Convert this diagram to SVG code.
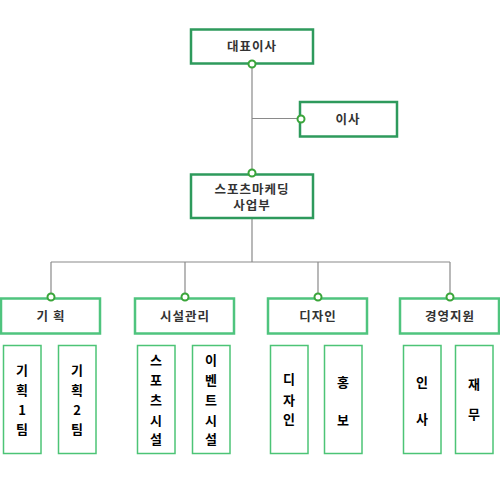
<svg xmlns="http://www.w3.org/2000/svg" width="500" height="484" viewBox="0 0 500 484">
<style>
.b1{fill:#fff;stroke:#2e9a5c;stroke-width:2.5}
.b2{fill:#fff;stroke:#4fc47e;stroke-width:2.5}
.b3{fill:#fff;stroke:#4cc476;stroke-width:1.5}
.dot{fill:#fff;stroke:#3aa53a;stroke-width:2}
.ln{stroke:#8a8a8a;stroke-width:1.2;fill:none}
text{font-family:"Noto Sans CJK KR","Noto Sans",sans-serif;font-weight:bold;text-anchor:middle}
.t1{font-size:12.5px;fill:#333;letter-spacing:1px}
.t3{font-size:13px;fill:#000}
</style>
<rect width="500" height="484" fill="#fff"/>
<g id="connectors">
<path class="ln" d="M252 63V262M252 118.5H301M51 262H450M51 262V297M185 262V297M318 262V297M450 262V297"/>
</g>
<g id="ceo"><rect class="b1" x="191" y="29.5" width="122" height="34"/><text class="t1" x="252" y="51">대표이사</text><circle class="dot" cx="252" cy="64" r="3.5"/></g>
<g id="director"><rect class="b1" x="300" y="102" width="97" height="34.5"/><text class="t1" x="348" y="124">이사</text><circle class="dot" cx="301" cy="119" r="3.5"/></g>
<g id="sports"><rect class="b1" x="191" y="174.5" width="122" height="43.5"/><text class="t1" x="252" y="194"><tspan x="252" y="194">스포츠마케딩</tspan><tspan x="252" y="210">사업부</tspan></text><circle class="dot" cx="252" cy="173" r="3.5"/></g>
<g id="plan"><rect class="b2" x="1" y="298.5" width="99" height="35"/><text class="t1" x="51" y="321">기 획</text><circle class="dot" cx="51" cy="297" r="3.5"/></g>
<g id="facility"><rect class="b2" x="135" y="298.5" width="99" height="35"/><text class="t1" x="185" y="321">시설관리</text><circle class="dot" cx="185" cy="297" r="3.5"/></g>
<g id="design"><rect class="b2" x="268" y="298.5" width="99" height="35"/><text class="t1" x="318" y="321">디자인</text><circle class="dot" cx="318" cy="297" r="3.5"/></g>
<g id="mgmt"><rect class="b2" x="400" y="298.5" width="99" height="35"/><text class="t1" x="450" y="321">경영지원</text><circle class="dot" cx="450" cy="297" r="3.5"/></g>
<g id="plan1"><rect class="b3" x="3.5" y="345.5" width="37.5" height="108"/><text class="t3" x="22" y="375">기</text><text class="t3" x="22" y="395">획</text><text class="t3" x="22" y="415">1</text><text class="t3" x="22" y="434">팀</text></g>
<g id="plan2"><rect class="b3" x="58.5" y="345.5" width="37.5" height="108"/><text class="t3" x="77" y="375">기</text><text class="t3" x="77" y="395">획</text><text class="t3" x="77" y="415">2</text><text class="t3" x="77" y="434">팀</text></g>
<g id="sportsfac"><rect class="b3" x="137.5" y="345.5" width="37.5" height="108"/><text class="t3" x="156" y="365">스</text><text class="t3" x="156" y="385">포</text><text class="t3" x="156" y="405">츠</text><text class="t3" x="156" y="425">시</text><text class="t3" x="156" y="444">설</text></g>
<g id="eventfac"><rect class="b3" x="192.5" y="345.5" width="37.5" height="108"/><text class="t3" x="211" y="365">이</text><text class="t3" x="211" y="385">벤</text><text class="t3" x="211" y="405">트</text><text class="t3" x="211" y="425">시</text><text class="t3" x="211" y="444">설</text></g>
<g id="design2"><rect class="b3" x="270.5" y="345.5" width="37.5" height="108"/><text class="t3" x="289" y="384">디</text><text class="t3" x="289" y="405">자</text><text class="t3" x="289" y="424">인</text></g>
<g id="pr"><rect class="b3" x="324.5" y="345.5" width="37.5" height="108"/><text class="t3" x="343" y="387">홍</text><text class="t3" x="343" y="425">보</text></g>
<g id="hr"><rect class="b3" x="403.5" y="345.5" width="37.5" height="108"/><text class="t3" x="422" y="387">인</text><text class="t3" x="422" y="424">사</text></g>
<g id="finance"><rect class="b3" x="455.5" y="345.5" width="37.5" height="108"/><text class="t3" x="474" y="389">재</text><text class="t3" x="474" y="419">무</text></g>
</svg>
